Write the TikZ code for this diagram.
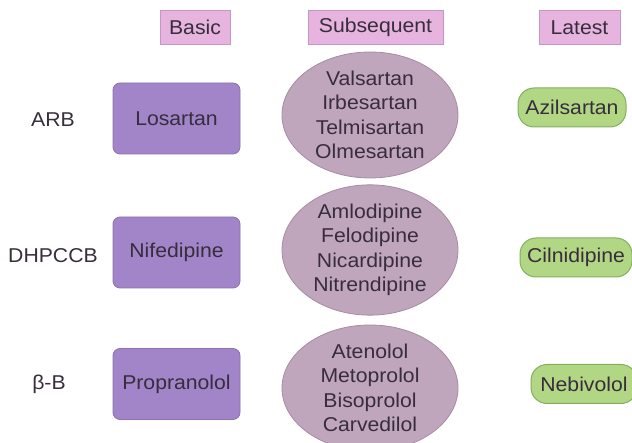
\documentclass[tikz,border=0pt]{standalone}
\usepackage{fontspec}
\setmainfont{Liberation Sans}[FakeStretch=1.06]
\usetikzlibrary{shapes.geometric}
\definecolor{hdrfill}{RGB}{230,180,222}
\definecolor{hdrdraw}{RGB}{200,150,195}
\definecolor{basfill}{RGB}{162,132,200}
\definecolor{basdraw}{RGB}{140,112,180}
\definecolor{elfill}{RGB}{192,166,188}
\definecolor{eldraw}{RGB}{165,140,162}
\definecolor{grfill}{RGB}{178,215,132}
\definecolor{grdraw}{RGB}{130,175,95}
\definecolor{txt}{RGB}{55,45,60}
\tikzset{
  every node/.style={font=\fontsize{20}{24.5}\selectfont, text=txt},
  hdr/.style={draw=hdrdraw, fill=hdrfill, line width=0.8pt, inner sep=0pt, minimum height=34pt},
  basbox/.style={draw=basdraw, fill=basfill, line width=0.8pt, rounded corners=7pt, minimum width=127pt, minimum height=71pt, inner sep=0pt},
  subell/.style={ellipse, draw=eldraw, fill=elfill, line width=0.8pt, minimum width=176pt, minimum height=126pt, inner sep=0pt, align=center},
  latbox/.style={draw=grdraw, fill=grfill, line width=1pt, rounded corners=16pt, minimum height=39pt, inner sep=0pt},
  rowlab/.style={inner sep=0pt}
}
\begin{document}
\begin{tikzpicture}[x=1pt,y=-1pt]
\useasboundingbox (0,0) rectangle (632,443);
% headers
\node[hdr, minimum width=70pt] (hb) at (195,27.5) {Basic};
\node[hdr, minimum width=135pt] (hs) at (375.5,27.5) {Subsequent};
\node[hdr, minimum width=81pt] (hl) at (579.5,27.5) {Latest};
% row labels
\node[rowlab] (l1) at (53,120) {ARB};
\node[rowlab] (l2) at (53,256) {DHPCCB};
\node[rowlab] (l3) at (49,384) {β-B};
% basic
\node[basbox] (b1) at (176.5,118.5) {Losartan};
\node[basbox] (b2) at (176.5,252.5) {Nifedipine};
\node[basbox] (b3) at (176.5,384) {Propranolol};
% subsequent
\node[subell] (s1) at (370,115) {Valsartan\\Irbesartan\\Telmisartan\\Olmesartan};
\node[subell] (s2) at (370,250) {Amlodipine\\Felodipine\\Nicardipine\\Nitrendipine};
\node[subell] (s3) at (370,388) {Atenolol\\Metoprolol\\Bisoprolol\\Carvedilol};
% latest
\node[latbox, minimum width=108pt] (a1) at (572,107.5) {Azilsartan};
\node[latbox, minimum width=112pt] (a2) at (576,257.5) {Cilnidipine};
\node[latbox, minimum width=106pt] (a3) at (584,384) {Nebivolol};
\end{tikzpicture}
\end{document}
